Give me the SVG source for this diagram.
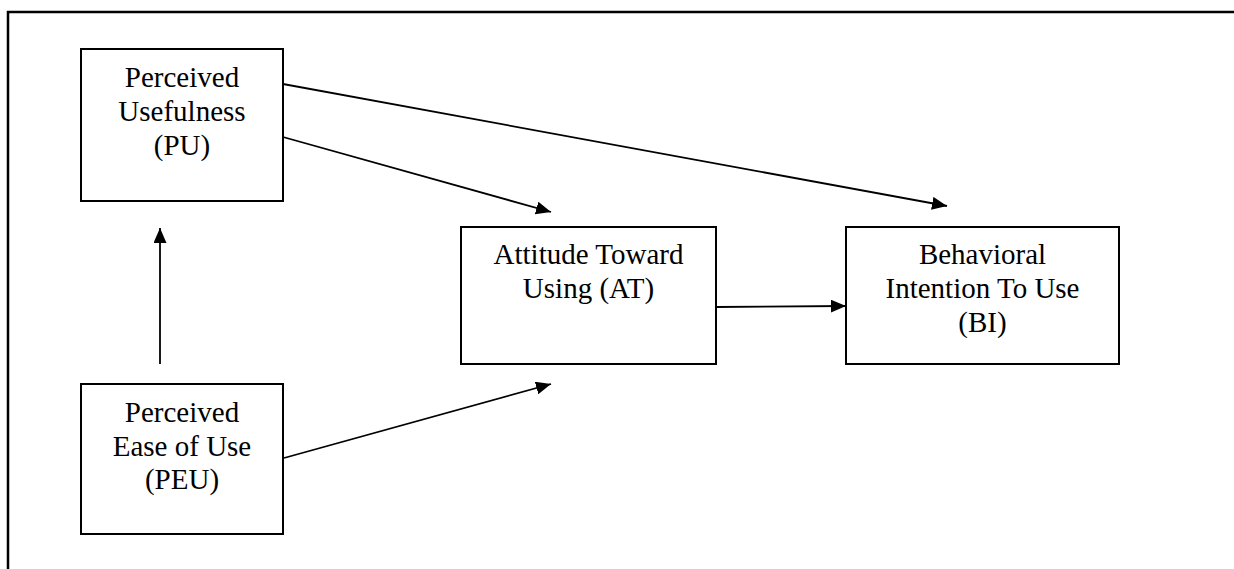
<svg xmlns="http://www.w3.org/2000/svg" width="1234" height="569" viewBox="0 0 1234 569">
<style>
.box{fill:#fff;stroke:#000;stroke-width:2}
.lbl{font-family:"Liberation Serif","Times New Roman",serif;font-size:29px;fill:#000;text-anchor:middle}
.edge{stroke:#000;stroke-width:1.8;fill:none;marker-end:url(#ah)}
</style>
<defs>
<marker id="ah" markerUnits="userSpaceOnUse" markerWidth="16" markerHeight="14" refX="15" refY="6.5" orient="auto">
<path d="M0,0 L15,6.5 L0,13 z" fill="#000"/>
</marker>
</defs>
<rect width="1234" height="569" fill="#fff"/>
<path d="M8,569 L8,12 L1234,12" fill="none" stroke="#000" stroke-width="2.5"/>
<g id="connectors">
<line class="edge" x1="283" y1="84" x2="947" y2="206"/>
<line class="edge" x1="283" y1="137" x2="551" y2="212"/>
<line class="edge" x1="284" y1="458" x2="551" y2="384"/>
<line class="edge" x1="160" y1="364" x2="160" y2="228"/>
<line class="edge" x1="716" y1="307" x2="846" y2="306"/>
</g>
<g id="PU">
<rect class="box" x="81" y="49" width="202" height="152"/>
<text class="lbl" x="182" y="87">Perceived</text>
<text class="lbl" x="182" y="121">Usefulness</text>
<text class="lbl" x="182" y="155">(PU)</text>
</g>
<g id="PEU">
<rect class="box" x="81" y="384" width="202" height="150"/>
<text class="lbl" x="182" y="422">Perceived</text>
<text class="lbl" x="182" y="456">Ease of Use</text>
<text class="lbl" x="182" y="489">(PEU)</text>
</g>
<g id="AT">
<rect class="box" x="461" y="227" width="255" height="137"/>
<text class="lbl" x="588.5" y="264">Attitude Toward</text>
<text class="lbl" x="588.5" y="298">Using (AT)</text>
</g>
<g id="BI">
<rect class="box" x="846" y="227" width="273" height="137"/>
<text class="lbl" x="982.5" y="264">Behavioral</text>
<text class="lbl" x="982.5" y="298">Intention To Use</text>
<text class="lbl" x="982.5" y="332">(BI)</text>
</g>
</svg>
